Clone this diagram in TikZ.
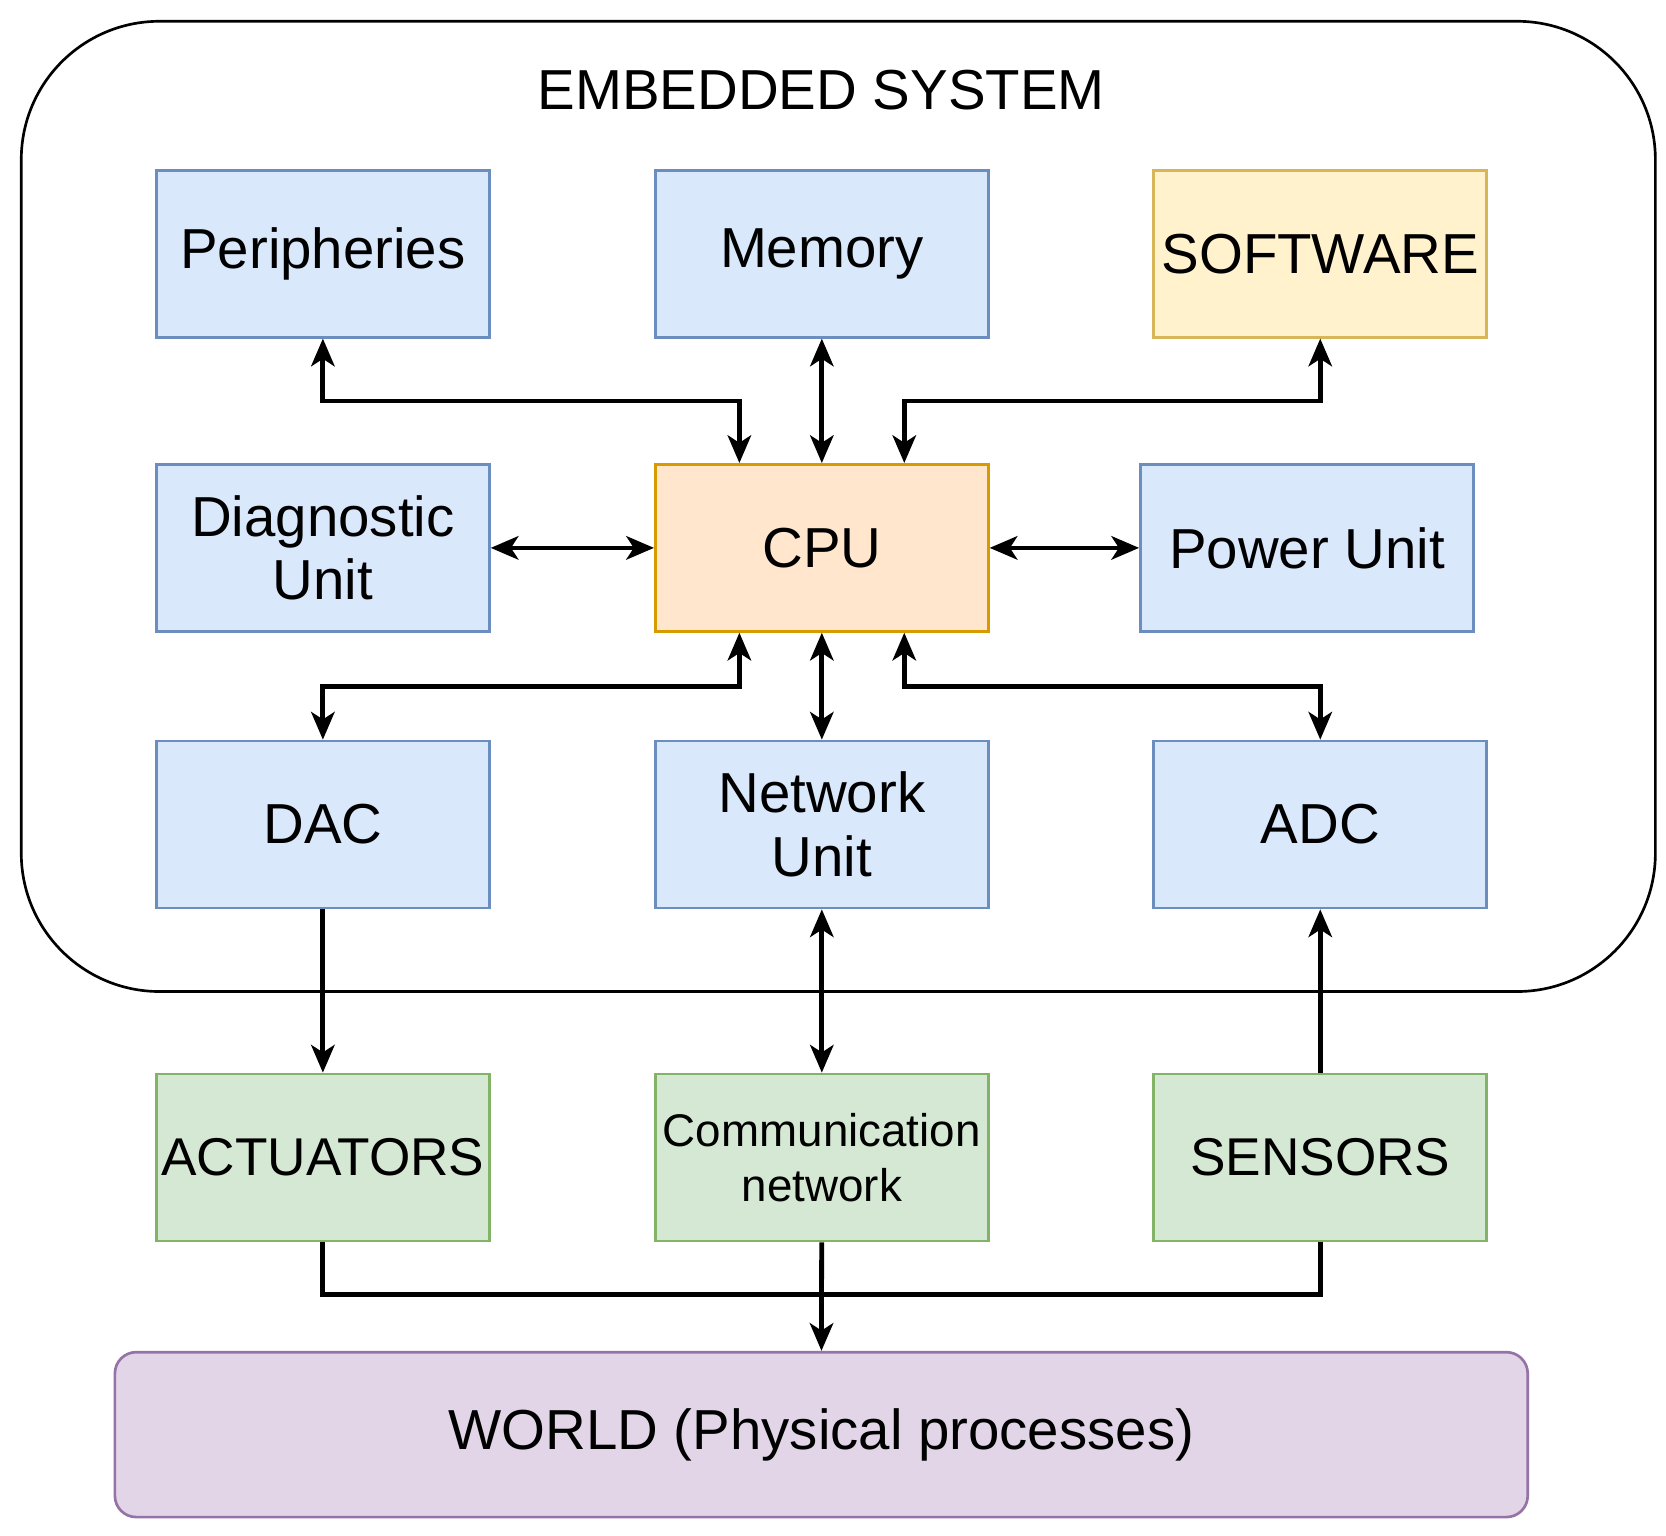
\documentclass[tikz,border=0pt]{standalone}
\usepackage{fontspec}
\setmainfont{Liberation Sans}
\usetikzlibrary{arrows.meta}
\definecolor{bF}{HTML}{DAE8FC}\definecolor{bD}{HTML}{6C8EBF}
\definecolor{yF}{HTML}{FFF2CC}\definecolor{yD}{HTML}{D6B656}
\definecolor{oF}{HTML}{FFE6CC}\definecolor{oD}{HTML}{D79B00}
\definecolor{gF}{HTML}{D5E8D4}\definecolor{gD}{HTML}{82B366}
\definecolor{pF}{HTML}{E1D5E7}\definecolor{pD}{HTML}{9673A6}
\begin{document}
\begin{tikzpicture}[x=1pt,y=-1pt,
 box/.style={draw=bD,fill=bF,line width=2.5pt,minimum width=313pt,minimum height=157pt,inner sep=0pt,align=center,font=\fontsize{53}{60}\selectfont},
 ar/.style={line width=4.5pt,-{Stealth[length=26pt,width=22pt,inset=7pt]}},
 dar/.style={line width=4.5pt,{Stealth[length=26pt,width=22pt,inset=7pt]}-{Stealth[length=26pt,width=22pt,inset=7pt]}}]
\useasboundingbox[fill=white] (0,0) rectangle (1566,1443);
\node[draw,line width=2.5pt,rounded corners=130pt,minimum width=1536pt,minimum height=912pt] (sys) at (788,476) {};
\node[font=\fontsize{53}{60}\selectfont] (title) at (772,85) {EMBEDDED SYSTEM};
\node[box] (per) at (303.5,238.5) {Peripheries};
\node[box] (mem) at (772.5,238.5) {Memory};
\node[box,draw=yD,fill=yF] (sw) at (1241,238.5) {SOFTWARE};
\node[box] (diag) at (303.5,515) {Diagnostic\\Unit};
\node[box,draw=oD,fill=oF] (cpu) at (772.5,515) {CPU};
\node[box] (pwr) at (1228.5,515) {Power Unit};
\node[box] (dac) at (303.5,775) {DAC};
\node[box] (net) at (772.5,775) {Network\\Unit};
\node[box] (adc) at (1241,775) {ADC};
\node[box,draw=gD,fill=gF,font=\fontsize{50}{56}\selectfont] (act) at (303.5,1088) {ACTUATORS};
\node[box,draw=gD,fill=gF,font=\fontsize{43}{52}\selectfont] (com) at (772.5,1088) {Communication\\network};
\node[box,draw=gD,fill=gF,font=\fontsize{50}{56}\selectfont] (sen) at (1241,1088) {SENSORS};
\node[draw=pD,fill=pF,line width=2.5pt,rounded corners=20pt,minimum width=1328pt,minimum height=155pt,font=\fontsize{53}{60}\selectfont] (world) at (772,1348.5) {WORLD (Physical processes)};
\draw[dar] (per.south) |- (695,377) -- (cpu.north -| 695,0);
\draw[dar] (mem) -- (cpu);
\draw[dar] (sw.south) |- (850,377) -- (cpu.north -| 850,0);
\draw[dar] (diag) -- (cpu);
\draw[dar] (cpu) -- (pwr);
\draw[dar] (cpu.south -| 695,0) |- (303.5,645) -- (dac.north);
\draw[dar] (cpu) -- (net);
\draw[dar] (cpu.south -| 850,0) |- (1241,645) -- (adc.north);
\draw[ar] (dac) -- (act);
\draw[dar] (net) -- (com);
\draw[ar] (sen) -- (adc);
\draw[line width=4.5pt] (act.south) |- (1241,1217) -- (sen.south);
\draw[ar] (com) -- (world);
\end{tikzpicture}
\end{document}
